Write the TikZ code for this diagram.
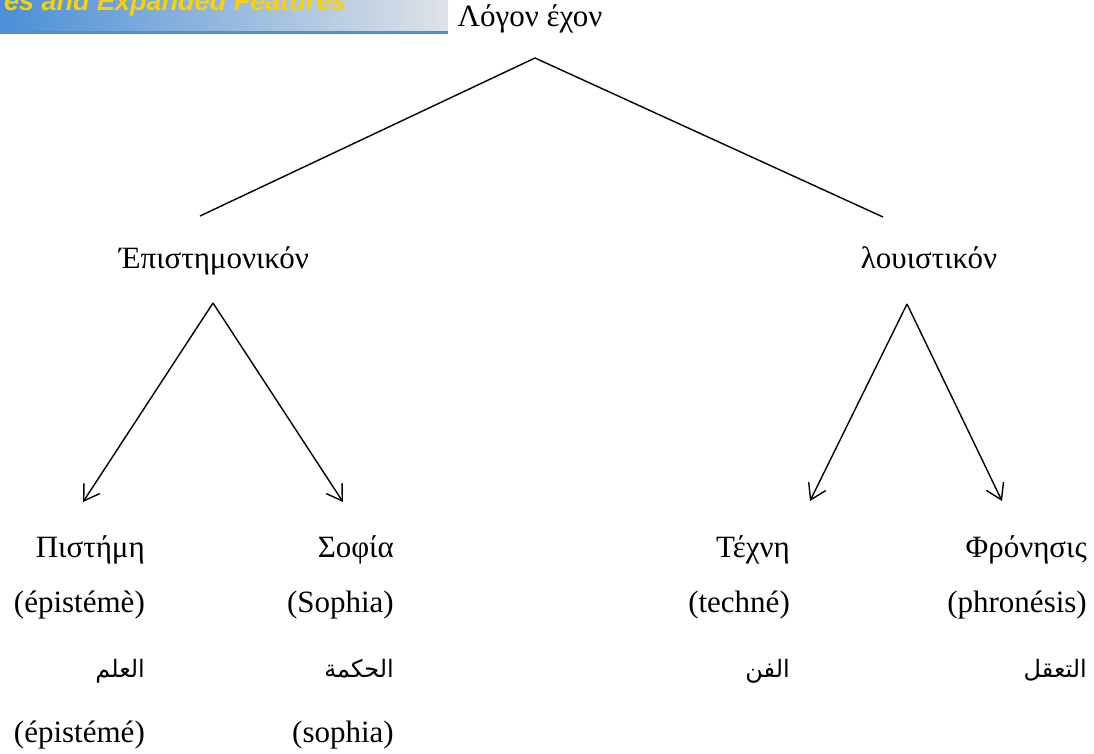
\documentclass[tikz,border=0pt]{standalone}
\usepackage{fontspec}
\setmainfont{Liberation Serif}
\newfontfamily\arabicfont[Script=Arabic]{DejaVu Sans}
\newfontfamily\bannerfont{Liberation Sans}
\TeXXeTstate=1
\usetikzlibrary{arrows.meta}
\definecolor{bannerL}{RGB}{74,143,215}
\definecolor{bannerR}{RGB}{223,226,231}
\definecolor{bannerLine}{RGB}{88,140,205}
\definecolor{bannerText}{RGB}{255,208,0}
\tikzset{
  word/.style={inner sep=0pt, font=\fontsize{31}{36}\selectfont},
  arword/.style={inner sep=0pt, font=\fontsize{24}{30}\selectfont\arabicfont},
  branch/.style={line width=1.4pt},
  pointer/.style={line width=1.4pt, -{Straight Barb[length=15pt,width=19pt,line width=1.4pt]}}
}
\begin{document}
\begin{tikzpicture}[x=1pt,y=-1pt]
\useasboundingbox (0,0) rectangle (1094,754);

% header strip, cut off at the top edge
\shade[left color=bannerL, right color=bannerR] (0,0) rectangle (448,32);
\fill[bannerLine] (0,31.5) rectangle (448,34);
\begin{scope}
  \clip (0,0) rectangle (448,32);
  \node[anchor=base west, inner sep=0pt, text=bannerText,
        font=\fontsize{27}{30}\selectfont\bannerfont\bfseries\itshape] (banner) at (4,11)
        {es and Expanded Features};
\end{scope}

% root
\node[word, anchor=base] (root) at (530,27) {Λόγον έχον};
\coordinate (apex) at (535,58);

% second level
\node[word, anchor=base] (epi) at (214,268) {Έπιστημονικόν};
\node[word, anchor=base] (log) at (929,268) {λουιστικόν};
\coordinate (epiIn) at (200,216);
\coordinate (logIn) at (883,217);
\coordinate (epiOut) at (213,303);
\coordinate (logOut) at (907,304);

\draw[branch] (epiIn) -- (apex) -- (logIn);

% leaves: Greek name, transliteration, Arabic, transliteration
\node[word, anchor=base east] (g1) at (145,557) {Πιστήμη};
\node[word, anchor=base east] (t1) at (145,612) {(épistémè)};
\node[arword, anchor=base east] (a1) at (145,677) {\beginR العلم\endR};
\node[word, anchor=base east] (s1) at (145,742) {(épistémé)};

\node[word, anchor=base east] (g2) at (394,557) {Σοφία};
\node[word, anchor=base east] (t2) at (394,612) {(Sophia)};
\node[arword, anchor=base east] (a2) at (394,677) {\beginR الحكمة\endR};
\node[word, anchor=base east] (s2) at (394,742) {(sophia)};

\node[word, anchor=base east] (g3) at (790,557) {Τέχνη};
\node[word, anchor=base east] (t3) at (790,612) {(techné)};
\node[arword, anchor=base east] (a3) at (790,677) {\beginR الفن\endR};

\node[word, anchor=base east] (g4) at (1087,557) {Φρόνησις};
\node[word, anchor=base east] (t4) at (1087,612) {(phronésis)};
\node[arword, anchor=base east] (a4) at (1087,677) {\beginR التعقل\endR};

\coordinate (tip1) at (83,502);
\coordinate (tip2) at (343,502);
\coordinate (tip3) at (810,501);
\coordinate (tip4) at (1002,501);

\draw[pointer] (epiOut) -- (tip1);
\draw[pointer] (epiOut) -- (tip2);
\draw[pointer] (logOut) -- (tip3);
\draw[pointer] (logOut) -- (tip4);
\end{tikzpicture}
\end{document}
